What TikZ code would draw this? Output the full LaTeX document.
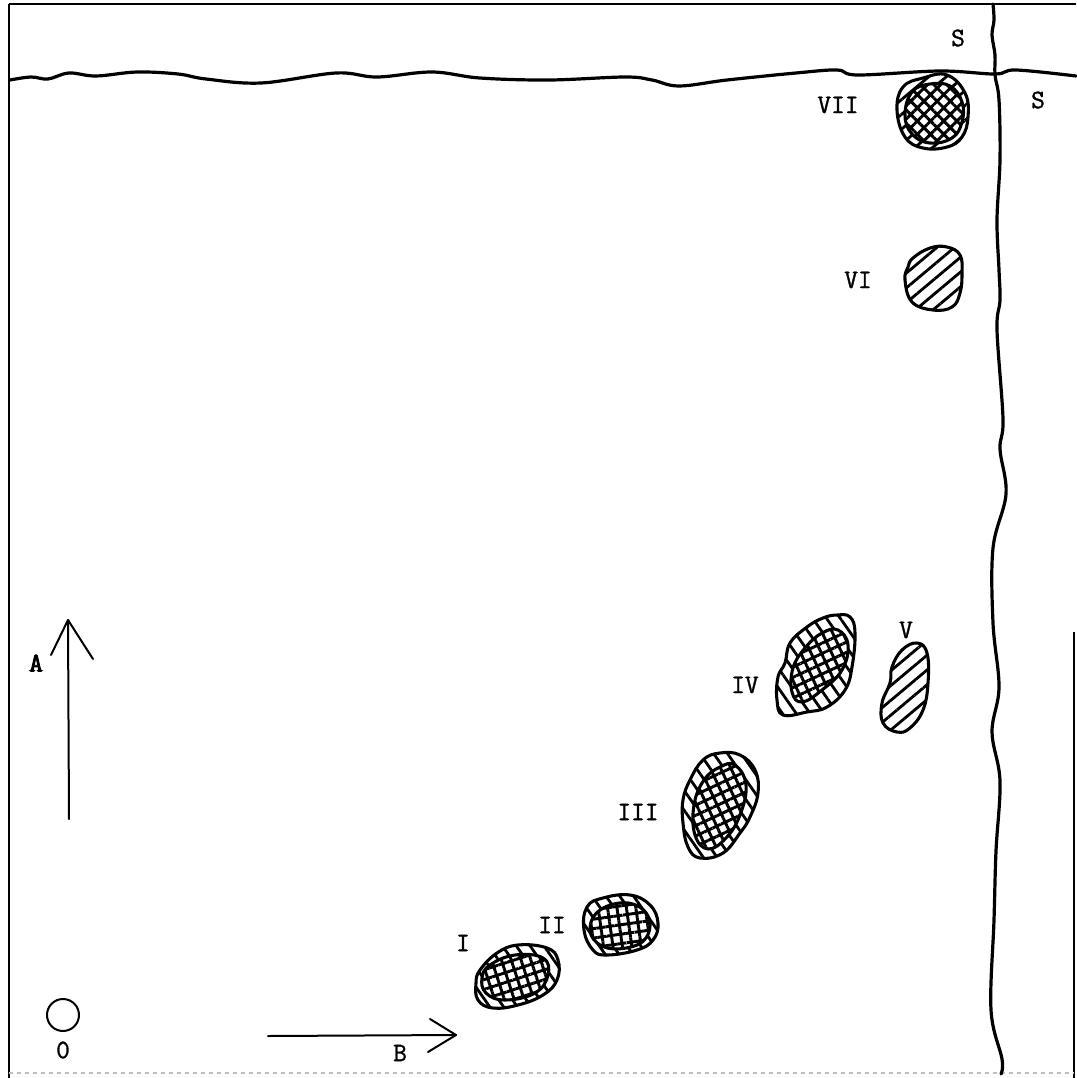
\documentclass[tikz,border=0pt]{standalone}
\usepackage{fontspec}
\newfontfamily\twfont{Latin Modern Mono}[FakeBold=1.2]
\newfontfamily\twbold{Latin Modern Mono}[FakeBold=3.5]
\usetikzlibrary{patterns.meta}
\begin{document}
\begin{tikzpicture}[x=0.75pt,y=-0.75pt,
  wave/.style={line width=2.4pt,line join=round,line cap=round},
  frame/.style={line width=1.6pt},
  blob/.style={line width=2.3pt,line join=round},
  arr/.style={line width=1.5pt,line cap=round,line join=round},
  lbl/.style={font=\twfont\fontsize{20}{24}\selectfont,inner sep=0pt},
  ring/.style={pattern={Lines[angle=-55,distance=8.5pt,line width=2.1pt]}},
  ring45/.style={pattern={Lines[angle=40,distance=8.5pt,line width=2.1pt]}},
  grid/.style={preaction={fill=white},pattern={Hatch[angle=#1,distance=7pt,line width=2.2pt]}}
]
\useasboundingbox (0,0) rectangle (1076,1078);
% frame
\draw[frame] (9,4) -- (1076,4);
\draw[frame] (9,4) -- (9,1078);
\draw[line width=1pt] (1074,632) -- (1074,1078);
\draw[line width=0.8pt,gray!50,dashed] (9,1073) -- (1074,1073);
% wavy horizontal line
\draw[wave] plot[smooth,tension=0.6] coordinates {(10,80) (31,77) (48,79) (69,73) (96,76) (137,72) (178,74) (206,79) (261,83) (336,73) (377,77) (432,72) (480,78) (549,80) (625,77) (652,80) (679,86) (727,80) (796,73) (837,70) (858,75) (940,71) (995,74) (1016,70) (1076,76)};
% wavy vertical line
\draw[wave] plot[smooth,tension=0.6] coordinates {(993,4) (994,20) (992,35) (995,55) (995,75) (999,100) (1000,160) (997,220) (999,270) (1000,300) (997,330) (1003,419) (1000,449) (1006,494) (993,548) (993,623) (999,687) (992,732) (1000,781) (996,851) (994,920) (991,1010) (1002,1059) (1001,1074)};
% labels S
\node[lbl] (s1) at (958,38) {S};
\node[lbl] (s2) at (1038,100) {S};
% spot VII
\draw[blob,ring45] plot[smooth cycle,tension=0.7] coordinates {(903,87) (923,78) (947,75) (965,93) (968,117) (962,137) (947,147) (923,148) (905,137) (897,110)};
\draw[blob,grid=45] plot[smooth cycle,tension=0.7] coordinates {(912,92) (930,84) (950,86) (962,102) (962,122) (952,138) (930,143) (912,134) (905,115)};
\node[lbl] (l7) at (838,105) {VII};
% spot VI
\draw[blob,ring45] plot[smooth cycle,tension=0.7] coordinates {(913,258) (930,248) (947,247) (960,255) (962,273) (960,293) (952,307) (933,310) (912,302) (905,280) (908,267)};
\node[lbl] (l6) at (858,280) {VI};
% spot V
\draw[blob,ring45] plot[smooth cycle,tension=0.7] coordinates {(917,643) (902,650) (892,667) (890,683) (882,703) (883,723) (897,732) (910,728) (923,710) (928,683) (927,653)};
\node[lbl] (l5) at (906,630) {V};
% spot IV
\draw[blob,ring] plot[smooth cycle,tension=0.7] coordinates {(837,615) (850,617) (855,633) (852,667) (845,690) (827,707) (807,712) (783,715) (777,700) (778,677) (785,663) (790,643) (807,627) (823,618)};
\draw[blob,grid=25] plot[smooth cycle,tension=0.7] coordinates {(838,630) (848,645) (842,670) (822,690) (802,702) (792,692) (793,668) (805,648) (822,633)};
\node[lbl] (l4) at (745,685) {IV};
% spot III
\draw[blob,ring] plot[smooth cycle,tension=0.7] coordinates {(720,753) (740,755) (755,770) (758,793) (750,817) (740,833) (723,853) (700,858) (688,847) (683,823) (683,800) (690,780) (703,760)};
\draw[blob,grid=25] plot[smooth cycle,tension=0.7] coordinates {(735,765) (746,785) (740,815) (726,838) (708,849) (695,835) (694,805) (704,780) (720,767)};
\node[lbl] (l3) at (638,812) {III};
% spot II
\draw[blob,ring] plot[smooth cycle,tension=0.7] coordinates {(587,907) (603,898) (630,895) (650,905) (658,923) (653,940) (637,950) (607,955) (593,950) (584,930)};
\draw[blob,grid=8] plot[smooth cycle,tension=0.7] coordinates {(600,910) (628,903) (648,916) (646,938) (626,948) (602,946) (590,930)};
\node[lbl] (l2) at (552,925) {II};
% spot I
\draw[blob,ring] plot[smooth cycle,tension=0.7] coordinates {(480,970) (497,953) (518,945) (547,948) (558,960) (557,980) (543,995) (518,1005) (493,1008) (478,1000) (476,983)};
\draw[blob,grid=18] plot[smooth cycle,tension=0.7] coordinates {(490,965) (515,955) (543,958) (548,975) (535,993) (505,1000) (486,993) (482,978)};
\node[lbl] (l1) at (463,943) {I};
% arrow A
\coordinate (atail) at (69,819);
\coordinate (atip) at (68,620);
\coordinate (al) at (51,655);
\coordinate (ar) at (93,659);
\draw[arr] (atail) -- (atip);
\draw[arr] (al) -- (atip) -- (ar);
\node[lbl,font=\twbold\fontsize{20}{24}\selectfont] (la) at (36,663) {A};
% arrow B
\coordinate (btail) at (268,1036);
\coordinate (btip) at (456,1035);
\coordinate (bl) at (430,1019);
\coordinate (br) at (428,1052);
\draw[arr] (btail) -- (btip);
\draw[arr] (bl) -- (btip) -- (br);
\node[lbl] (lb) at (400,1053) {B};
% origin
\node[draw,circle,line width=1.5pt,minimum size=24pt,inner sep=0pt] (o) at (63,1015) {};
\node[lbl] (lo) at (63,1050) {0};
\end{tikzpicture}
\end{document}
